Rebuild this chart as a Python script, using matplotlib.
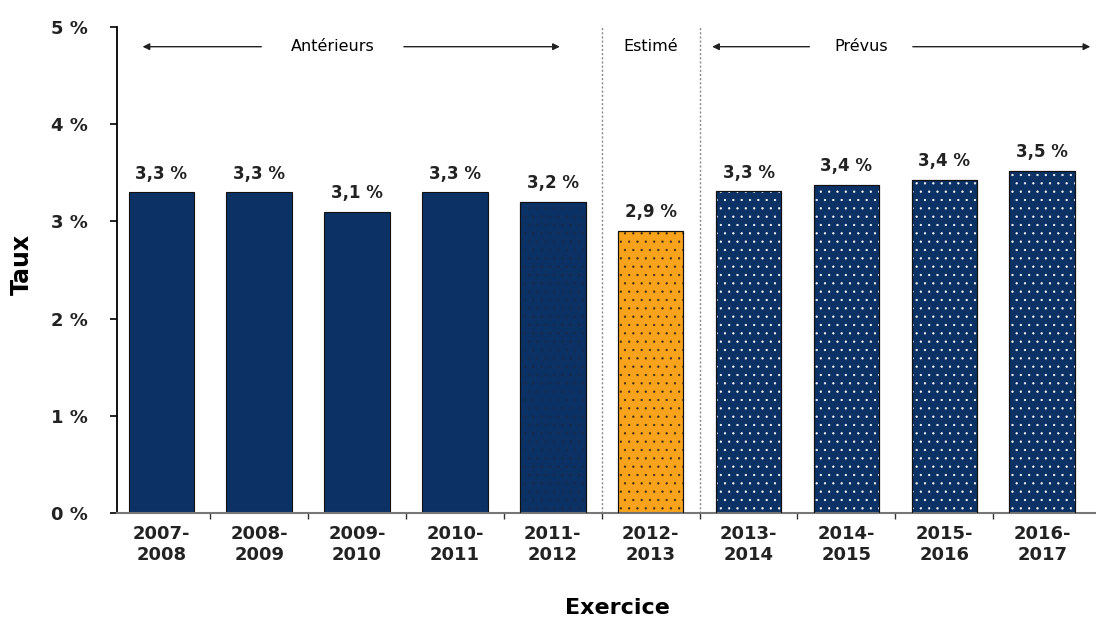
import numpy as np
import matplotlib.pyplot as plt

# exercices et taux (en %)
exercices = ["2007-\n2008", "2008-\n2009", "2009-\n2010", "2010-\n2011", "2011-\n2012",
             "2012-\n2013", "2013-\n2014", "2014-\n2015", "2015-\n2016", "2016-\n2017"]
taux = [3.3, 3.3, 3.1, 3.3, 3.2, 2.9, 3.31, 3.38, 3.43, 3.52]
etiquettes = ["3,3 %", "3,3 %", "3,1 %", "3,3 %", "3,2 %", "2,9 %", "3,3 %", "3,4 %", "3,4 %", "3,5 %"]

# couleurs: 5 exercices antérieurs, 1 estimé, 4 prévus
marine = "#0b3165"
orange = "#f8a31b"
couleurs = [marine] * 5 + [orange] + [marine] * 4
# couleur des points (None = pas de motif)
points = [None] * 4 + ["#1a2a48", "#3a2a10"] + ["white"] * 4

plt.rcParams['font.family'] = ['DejaVu Sans']
plt.rcParams['hatch.linewidth'] = 0.4

fig = plt.figure(figsize=(10.96, 6.20), dpi=100)
ax = fig.add_axes([0.107, 0.173, 0.893, 0.783])

x = np.arange(len(taux))
largeur = 0.67
ax.bar(x, taux, width=largeur, color=couleurs, edgecolor="#111111", linewidth=0.8, zorder=2)
for i in range(len(taux)):
    if points[i] is not None:
        ax.bar(x[i], taux[i], width=largeur, facecolor="none", edgecolor=points[i],
               hatch="..", linewidth=0, zorder=3)
        ax.bar(x[i], taux[i], width=largeur, facecolor="none", edgecolor="#111111",
               linewidth=0.8, zorder=4)

for i in range(len(taux)):
    ax.text(x[i], taux[i] + 0.1, etiquettes[i], ha="center", va="bottom",
            fontsize=12, fontweight="bold", color="#222222")

ax.set_ylim(0, 5)
ax.set_xlim(-0.45, 9.55)
ax.set_yticks(range(6))
ax.set_yticklabels([f"{v} %" for v in range(6)], fontsize=13, fontweight="bold", color="#222222")
ax.set_xticks(x)
ax.set_xticklabels(exercices, fontsize=13, fontweight="bold", color="#222222")
ax.tick_params(axis="x", length=0, pad=9)
ax.tick_params(axis="y", length=5, width=1.2, direction="out", pad=16)
# petits traits entre les exercices
ax.set_xticks(np.arange(0.5, 9.5, 1), minor=True)
ax.tick_params(axis="x", which="minor", length=4, width=1, color="#333333", direction="out")

for s in ["top", "right"]:
    ax.spines[s].set_visible(False)
ax.spines["left"].set_linewidth(1.3)
ax.spines["bottom"].set_color("#777777")
ax.spines["bottom"].set_linewidth(1.5)

ax.set_ylabel("Taux", fontsize=17, fontweight="bold")
ax.yaxis.set_label_coords(-0.085, 0.512)
fig.text(0.563, 0.02, "Exercice", ha="center", va="center", fontsize=16, fontweight="bold")

# séparateurs entre antérieurs / estimé / prévus
for xs in [4.5, 5.5]:
    ax.axvline(xs, color="#888888", linestyle=(0, (1.5, 1.5)), linewidth=1, zorder=1)

# flèches de période
y_fl = 4.8
fl = dict(arrowstyle="-|>", color="#222222", lw=1, mutation_scale=10)
ax.text(1.75, y_fl, "Antérieurs", ha="center", va="center", fontsize=11.5)
ax.annotate("", xy=(-0.22, y_fl), xytext=(1.05, y_fl), arrowprops=fl)
ax.annotate("", xy=(4.1, y_fl), xytext=(2.45, y_fl), arrowprops=fl)
ax.text(5.0, y_fl, "Estimé", ha="center", va="center", fontsize=11.5)
ax.text(7.15, y_fl, "Prévus", ha="center", va="center", fontsize=11.5)
ax.annotate("", xy=(5.6, y_fl), xytext=(6.65, y_fl), arrowprops=fl)
ax.annotate("", xy=(9.52, y_fl), xytext=(7.65, y_fl), arrowprops=fl)

fig.savefig("out.png", dpi=100)
